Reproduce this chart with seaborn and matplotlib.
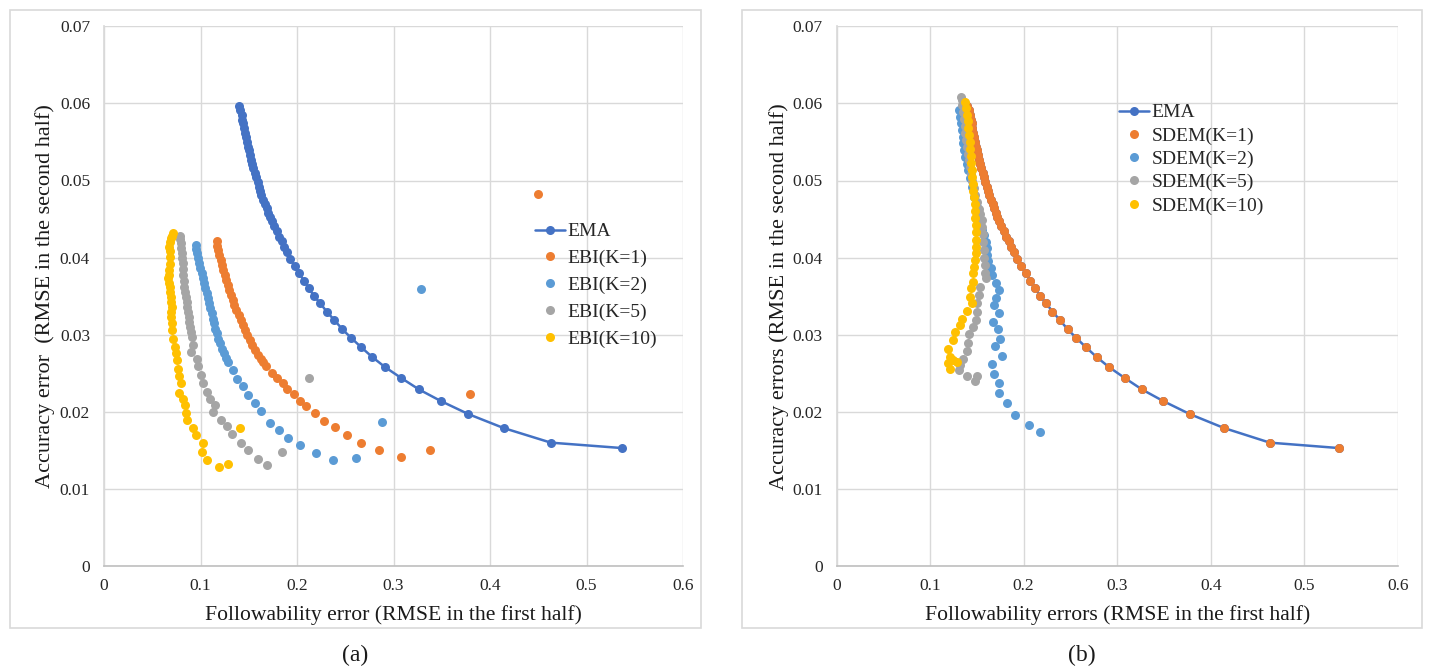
import pandas as pd
import seaborn as sns
import matplotlib.pyplot as plt
import matplotlib.ticker as plticker
from matplotlib.lines import Line2D
from matplotlib.patches import Rectangle

# ---- data ----
# EMA (same curve in both panels)
ema_x = [0.1398, 0.1411, 0.1425, 0.1434, 0.1444, 0.1453, 0.1461, 0.1469, 0.1477, 0.1488,
         0.1499, 0.1511, 0.1522, 0.1534, 0.1546, 0.1561, 0.1576, 0.1591, 0.1605, 0.1618,
         0.1632, 0.1649, 0.1667, 0.1684, 0.1701, 0.1719, 0.1736, 0.1760, 0.1788, 0.1814,
         0.1840, 0.1866, 0.1893, 0.1930, 0.1976, 0.2020, 0.2073, 0.2121, 0.2176, 0.2240,
         0.2307, 0.2387, 0.2470, 0.2560, 0.2663, 0.2780, 0.2912, 0.3078, 0.3264, 0.3490,
         0.3776, 0.4140, 0.4630, 0.5365]
ema_y = [0.0597, 0.0591, 0.0585, 0.0579, 0.0574, 0.0568, 0.0562, 0.0556, 0.0550, 0.0544,
         0.0539, 0.0533, 0.0527, 0.0522, 0.0516, 0.0510, 0.0504, 0.0498, 0.0492, 0.0487,
         0.0481, 0.0475, 0.0470, 0.0464, 0.0458, 0.0453, 0.0447, 0.0441, 0.0434, 0.0427,
         0.0421, 0.0414, 0.0407, 0.0398, 0.0389, 0.0380, 0.0370, 0.0361, 0.0350, 0.0341,
         0.0330, 0.0319, 0.0307, 0.0296, 0.0284, 0.0271, 0.0258, 0.0244, 0.0229, 0.0214,
         0.0197, 0.0179, 0.0160, 0.0153]

# panel (a): EBI
ebi1_x = [0.1166, 0.1175, 0.1183, 0.1195, 0.1208, 0.1221, 0.1235, 0.1249, 0.1263, 0.1280,
          0.1297, 0.1314, 0.1332, 0.1352, 0.1373, 0.1394, 0.1415, 0.1437, 0.1460, 0.1485,
          0.1511, 0.1537, 0.1563, 0.1592, 0.1622, 0.1650, 0.1677, 0.1736, 0.1794, 0.1850,
          0.1898, 0.1967, 0.2029, 0.2098, 0.2184, 0.2277, 0.2391, 0.2516, 0.2667, 0.2850,
          0.3075, 0.3375, 0.3792, 0.4496]
ebi1_y = [0.0421, 0.0415, 0.0410, 0.0403, 0.0397, 0.0390, 0.0384, 0.0377, 0.0371, 0.0364,
          0.0358, 0.0351, 0.0345, 0.0338, 0.0332, 0.0325, 0.0319, 0.0312, 0.0306, 0.0299,
          0.0293, 0.0286, 0.0280, 0.0274, 0.0269, 0.0264, 0.0259, 0.0250, 0.0244, 0.0237,
          0.0230, 0.0223, 0.0214, 0.0207, 0.0198, 0.0188, 0.0180, 0.0170, 0.0159, 0.0150,
          0.0141, 0.0150, 0.0223, 0.0483]

ebi2_x = [0.0949, 0.0957, 0.0966, 0.0976, 0.0987, 0.0999, 0.1011, 0.1023, 0.1035, 0.1049,
          0.1063, 0.1076, 0.1090, 0.1102, 0.1115, 0.1127, 0.1139, 0.1153, 0.1167, 0.1184,
          0.1201, 0.1222, 0.1243, 0.1265, 0.1288, 0.1332, 0.1381, 0.1443, 0.1494, 0.1563,
          0.1632, 0.1718, 0.1815, 0.1908, 0.2034, 0.2201, 0.2374, 0.2616, 0.2878, 0.3282]
ebi2_y = [0.0416, 0.0411, 0.0406, 0.0400, 0.0393, 0.0386, 0.0380, 0.0373, 0.0367, 0.0360,
          0.0354, 0.0347, 0.0341, 0.0334, 0.0328, 0.0321, 0.0315, 0.0308, 0.0302, 0.0295,
          0.0289, 0.0282, 0.0276, 0.0270, 0.0265, 0.0254, 0.0243, 0.0233, 0.0222, 0.0211,
          0.0201, 0.0186, 0.0176, 0.0166, 0.0157, 0.0146, 0.0137, 0.0140, 0.0187, 0.0359]

ebi5_x = [0.0787, 0.0790, 0.0794, 0.0799, 0.0804, 0.0810, 0.0815, 0.0818, 0.0821, 0.0826,
          0.0832, 0.0840, 0.0849, 0.0856, 0.0863, 0.0871, 0.0880, 0.0885, 0.0890, 0.0899,
          0.0908, 0.0925, 0.0901, 0.0960, 0.0977, 0.1001, 0.1028, 0.1063, 0.1097, 0.1149,
          0.1132, 0.1208, 0.1270, 0.1329, 0.1418, 0.1494, 0.1591, 0.1687, 0.1846, 0.2125]
ebi5_y = [0.0428, 0.0424, 0.0419, 0.0413, 0.0406, 0.0400, 0.0393, 0.0385, 0.0377, 0.0370,
          0.0362, 0.0355, 0.0349, 0.0342, 0.0336, 0.0330, 0.0323, 0.0317, 0.0310, 0.0303,
          0.0297, 0.0287, 0.0278, 0.0269, 0.0259, 0.0248, 0.0237, 0.0226, 0.0217, 0.0209,
          0.0200, 0.0190, 0.0182, 0.0171, 0.0160, 0.0150, 0.0139, 0.0131, 0.0148, 0.0244]

ebi10_x = [0.0718, 0.0706, 0.0694, 0.0685, 0.0676, 0.0679, 0.0683, 0.0680, 0.0676, 0.0670,
           0.0666, 0.0675, 0.0683, 0.0688, 0.0694, 0.0698, 0.0701, 0.0697, 0.0694, 0.0708,
           0.0701, 0.0718, 0.0735, 0.0745, 0.0752, 0.0770, 0.0780, 0.0797, 0.0780, 0.0821,
           0.0839, 0.0849, 0.0856, 0.0918, 0.0952, 0.1021, 0.1018, 0.1070, 0.1187, 0.1280,
           0.1408]
ebi10_y = [0.0432, 0.0428, 0.0425, 0.0420, 0.0414, 0.0408, 0.0401, 0.0392, 0.0384, 0.0378,
           0.0373, 0.0367, 0.0362, 0.0355, 0.0349, 0.0342, 0.0336, 0.0329, 0.0323, 0.0315,
           0.0306, 0.0295, 0.0284, 0.0276, 0.0267, 0.0256, 0.0246, 0.0237, 0.0224, 0.0217,
           0.0209, 0.0198, 0.0189, 0.0179, 0.0170, 0.0159, 0.0148, 0.0137, 0.0129, 0.0132,
           0.0179]

# panel (b): SDEM -- K=1 lies right on the EMA curve
sdem1_x = ema_x
sdem1_y = ema_y

sdem2_x = [0.1310, 0.1320, 0.1330, 0.1339, 0.1348, 0.1357, 0.1366, 0.1375, 0.1392, 0.1410,
           0.1428, 0.1446, 0.1472, 0.1499, 0.1517, 0.1535, 0.1556, 0.1578, 0.1595, 0.1607,
           0.1613, 0.1624, 0.1649, 0.1660, 0.1706, 0.1738, 0.1706, 0.1688, 0.1735, 0.1677,
           0.1724, 0.1749, 0.1695, 0.1767, 0.1660, 0.1688, 0.1738, 0.1741, 0.1820, 0.1906,
           0.2059, 0.2173]
sdem2_y = [0.0592, 0.0583, 0.0574, 0.0566, 0.0557, 0.0549, 0.0540, 0.0531, 0.0522, 0.0514,
           0.0503, 0.0492, 0.0479, 0.0466, 0.0455, 0.0444, 0.0436, 0.0429, 0.0420, 0.0412,
           0.0403, 0.0395, 0.0386, 0.0377, 0.0367, 0.0358, 0.0347, 0.0339, 0.0328, 0.0317,
           0.0307, 0.0295, 0.0285, 0.0273, 0.0262, 0.0249, 0.0238, 0.0225, 0.0211, 0.0196,
           0.0183, 0.0174]

sdem5_x = [0.1330, 0.1339, 0.1345, 0.1352, 0.1360, 0.1368, 0.1376, 0.1385, 0.1395, 0.1405,
           0.1415, 0.1427, 0.1440, 0.1453, 0.1468, 0.1485, 0.1502, 0.1520, 0.1537, 0.1553,
           0.1558, 0.1563, 0.1568, 0.1573, 0.1578, 0.1585, 0.1592, 0.1599, 0.1535, 0.1527,
           0.1506, 0.1499, 0.1492, 0.1457, 0.1420, 0.1403, 0.1399, 0.1350, 0.1321, 0.1314,
           0.1392, 0.1481, 0.1499]
sdem5_y = [0.0608, 0.0604, 0.0598, 0.0589, 0.0580, 0.0571, 0.0562, 0.0553, 0.0544, 0.0535,
           0.0526, 0.0517, 0.0508, 0.0499, 0.0490, 0.0481, 0.0472, 0.0463, 0.0456, 0.0449,
           0.0440, 0.0430, 0.0420, 0.0410, 0.0400, 0.0390, 0.0380, 0.0373, 0.0362, 0.0351,
           0.0341, 0.0330, 0.0319, 0.0310, 0.0301, 0.0289, 0.0279, 0.0269, 0.0261, 0.0254,
           0.0246, 0.0240, 0.0246]

sdem10_x = [0.1374, 0.1383, 0.1392, 0.1401, 0.1410, 0.1416, 0.1422, 0.1428, 0.1434, 0.1440,
            0.1446, 0.1452, 0.1457, 0.1463, 0.1469, 0.1475, 0.1481, 0.1485, 0.1489, 0.1492,
            0.1492, 0.1490, 0.1486, 0.1481, 0.1472, 0.1463, 0.1457, 0.1435, 0.1428, 0.1446,
            0.1392, 0.1339, 0.1321, 0.1267, 0.1242, 0.1196, 0.1214, 0.1196, 0.1214, 0.1249,
            0.1285]
sdem10_y = [0.0602, 0.0594, 0.0585, 0.0577, 0.0568, 0.0559, 0.0550, 0.0541, 0.0532, 0.0523,
            0.0514, 0.0505, 0.0496, 0.0487, 0.0478, 0.0469, 0.0460, 0.0451, 0.0442, 0.0433,
            0.0423, 0.0414, 0.0406, 0.0397, 0.0388, 0.0380, 0.0369, 0.0360, 0.0349, 0.0341,
            0.0331, 0.0321, 0.0313, 0.0303, 0.0293, 0.0281, 0.0271, 0.0263, 0.0255, 0.0267,
            0.0264]

ema_color = "#4472C4"
colors = ["#ED7D31", "#5B9BD5", "#A5A5A5", "#FFC000"]
labels_a = ["EBI(K=1)", "EBI(K=2)", "EBI(K=5)", "EBI(K=10)"]
labels_b = ["SDEM(K=1)", "SDEM(K=2)", "SDEM(K=5)", "SDEM(K=10)"]

sns.set_theme(style="whitegrid")
plt.rcParams["font.family"] = ["Liberation Serif", "DejaVu Serif"]

W, H = 1430, 670


def px_box(x0, x1, y_top, y_bot):
    return [x0 / W, 1 - y_bot / H, (x1 - x0) / W, (y_bot - y_top) / H]


def plot_panel(ax, series, xlabel, ylabel):
    ema = pd.DataFrame({"x": ema_x, "y": ema_y})
    sns.lineplot(data=ema, x="x", y="y", sort=False, estimator=None, ax=ax,
                 color=ema_color, lw=1.8, marker="o", markersize=6.5,
                 markeredgewidth=0, zorder=3)
    for (xs, ys), c in zip(series, colors):
        df = pd.DataFrame({"x": xs, "y": ys})
        sns.scatterplot(data=df, x="x", y="y", ax=ax, color=c, s=42,
                        linewidth=0, zorder=4)
    ax.set_xlim(0, 0.6)
    ax.set_ylim(0, 0.07)
    ax.xaxis.set_major_locator(plticker.MultipleLocator(0.1))
    ax.yaxis.set_major_locator(plticker.MultipleLocator(0.01))
    fmt = plticker.FuncFormatter(lambda v, p: "0" if abs(v) < 1e-9 else "{:g}".format(round(v, 3)))
    ax.xaxis.set_major_formatter(fmt)
    ax.yaxis.set_major_formatter(fmt)
    ax.grid(True, color="#D9D9D9", lw=1.0)
    for s in ["top", "right"]:
        ax.spines[s].set_visible(False)
    ax.spines["left"].set_color("#D9D9D9")
    ax.spines["bottom"].set_color("#BFBFBF")
    ax.spines["bottom"].set_linewidth(1.2)
    ax.tick_params(axis="both", length=0, labelsize=12.5, colors="#262626")
    ax.tick_params(axis="y", pad=10)
    ax.tick_params(axis="x", pad=9)
    ax.set_xlabel(xlabel, fontsize=15.6, color="#1a1a1a")
    ax.set_ylabel(ylabel, fontsize=16, color="#1a1a1a")
    ax.xaxis.set_label_coords(0.5, -0.072)
    ax.yaxis.set_label_coords(-0.085, 0.5)

    handles = [Line2D([0], [0], color=ema_color, lw=1.8, marker="o", markersize=6.5,
                      markeredgewidth=0)]
    for c in colors:
        handles.append(Line2D([0], [0], color=c, lw=0, marker="o", markersize=6.5,
                              markeredgewidth=0))
    return handles


fig = plt.figure(figsize=(W / 100, H / 100), dpi=100)

# chart frames
for x0, x1 in [(10, 701), (742, 1422)]:
    fig.patches.append(Rectangle((x0 / W, 1 - 628 / H), (x1 - x0) / W, 618 / H,
                                 transform=fig.transFigure, fill=False,
                                 edgecolor="#D9D9D9", lw=1.2))

ax1 = fig.add_axes(px_box(104, 683, 26.3, 566))
ax2 = fig.add_axes(px_box(836.5, 1398, 26.3, 566))

h1 = plot_panel(ax1, [(ebi1_x, ebi1_y), (ebi2_x, ebi2_y), (ebi5_x, ebi5_y), (ebi10_x, ebi10_y)],
                "Followability error (RMSE in the first half)",
                "Accuracy error  (RMSE in the second half)")
h2 = plot_panel(ax2, [(sdem1_x, sdem1_y), (sdem2_x, sdem2_y), (sdem5_x, sdem5_y), (sdem10_x, sdem10_y)],
                "Followability errors (RMSE in the first half)",
                "Accuracy errors (RMSE in the second half)")

ax1.legend(h1, ["EMA"] + labels_a, loc="upper left", bbox_to_anchor=(525 / W, 1 - 213 / H),
           bbox_transform=fig.transFigure, frameon=False, fontsize=14,
           handlelength=1.55, handletextpad=0.15, labelspacing=0.47, borderpad=0)
ax2.legend(h2, ["EMA"] + labels_b, loc="upper left", bbox_to_anchor=(1109 / W, 1 - 94 / H),
           bbox_transform=fig.transFigure, frameon=False, fontsize=14,
           handlelength=1.55, handletextpad=0.15, labelspacing=0.29, borderpad=0)

fig.text(355 / W, 1 - 655 / H, "(a)", ha="center", va="center", fontsize=17, color="#1a1a1a")
fig.text(1082 / W, 1 - 655 / H, "(b)", ha="center", va="center", fontsize=17, color="#1a1a1a")

fig.savefig("out.png", dpi=100)
